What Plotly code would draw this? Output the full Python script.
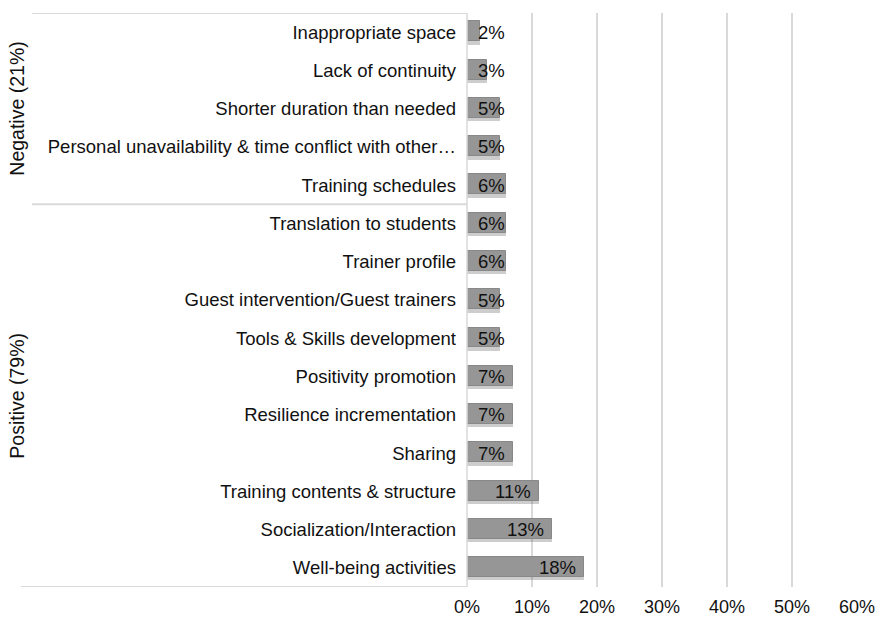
import plotly.graph_objects as go

categories = [
    "Inappropriate space",
    "Lack of continuity",
    "Shorter duration than needed",
    "Personal unavailability & time conflict with other…",
    "Training schedules",
    "Translation to students",
    "Trainer profile",
    "Guest intervention/Guest trainers",
    "Tools & Skills development",
    "Positivity promotion",
    "Resilience incrementation",
    "Sharing",
    "Training contents & structure",
    "Socialization/Interaction",
    "Well-being activities",
]
values = [2, 3, 5, 5, 6, 6, 6, 5, 5, 7, 7, 7, 11, 13, 18]
group_names = ["Negative (21%)", "Positive (79%)"]
group_sizes = [5, 10]
x_ticks = [0, 10, 20, 30, 40, 50, 60]
x_tick_labels = ["0%", "10%", "20%", "30%", "40%", "50%", "60%"]

FONT = "Liberation Sans, Arial, sans-serif"
GRID = "#d9d9d9"
idx = list(range(len(categories)))

fig = go.Figure()
# soft shadow under the bars
fig.add_trace(go.Bar(
    x=values, y=idx, orientation="h", width=0.58, offset=-0.25,
    marker=dict(color="rgba(90,90,90,0.30)", line=dict(width=0)),
    hoverinfo="skip", showlegend=False,
))
fig.add_trace(go.Bar(
    x=values, y=idx, orientation="h", width=0.52, offset=-0.28,
    marker=dict(color="#969696", line=dict(color="#888888", width=1)),
    showlegend=False,
))

# data labels
for i, v in enumerate(values):
    fig.add_annotation(
        x=max(v, 7.1), y=i, xref="x", yref="y", text=f"{v}%",
        xanchor="right", yanchor="middle", xshift=-6, showarrow=False,
        font=dict(family=FONT, size=18.5, color="#111111"),
    )

plot_w = 390.0
shapes = []
# group frame lines
start = 0
bounds = [-0.5]
for n in group_sizes:
    start += n
    bounds.append(start - 0.5)
for k, b in enumerate(bounds):
    x0 = -(467 - 21) / plot_w if k == len(bounds) - 1 else -(467 - 32) / plot_w
    shapes.append(dict(type="line", xref="paper", yref="y", x0=x0, x1=0,
                       y0=b, y1=b, line=dict(color=GRID, width=2)))
# y axis line
shapes.append(dict(type="line", xref="paper", yref="y", x0=0, x1=0,
                   y0=-0.5, y1=len(categories) - 0.5, line=dict(color=GRID, width=1.5)))

# group labels
start = 0
for name, n in zip(group_names, group_sizes):
    center = start + (n - 1) / 2
    fig.add_annotation(
        x=-(467 - 17) / plot_w, y=center, xref="paper", yref="y", text=name,
        textangle=-90, showarrow=False, xanchor="center", yanchor="middle",
        font=dict(family=FONT, size=19.5, color="#111111"),
    )
    start += n

fig.update_layout(
    width=880, height=617,
    margin=dict(l=467, r=23, t=13, b=30),
    paper_bgcolor="white", plot_bgcolor="white",
    barmode="overlay", bargap=0,
    shapes=shapes,
    font=dict(family=FONT, size=18.5, color="#111111"),
    xaxis=dict(range=[0, 60], tickvals=x_ticks, ticktext=x_tick_labels,
               showgrid=True, gridcolor=GRID, gridwidth=1.5, zeroline=False,
               showline=False, ticks="", ticklabelstandoff=7, automargin=False,
               tickfont=dict(family=FONT, size=18, color="#111111")),
    yaxis=dict(tickvals=idx, ticktext=categories, range=[len(categories) - 0.5, -0.5],
               showgrid=False, zeroline=False, showline=False, ticks="",
               ticklabelstandoff=10, automargin=False,
               tickfont=dict(family=FONT, size=18.5, color="#111111")),
)

fig.write_html("out.html", config={"displayModeBar": False},
               post_script="document.body.style.margin='0';")
